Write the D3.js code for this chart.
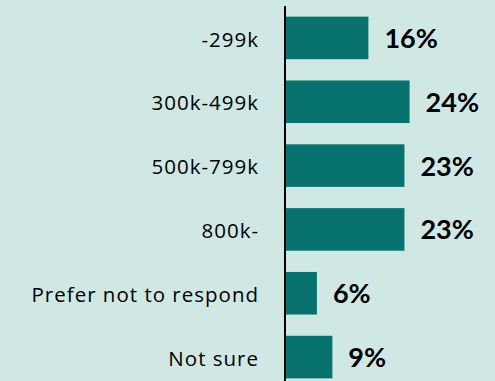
<!DOCTYPE html>
<html>
<head>
<meta charset="utf-8">
<script src="https://cdn.jsdelivr.net/npm/d3@7"></script>
<style>
  html, body { margin: 0; padding: 0; background: #d0e8e4; }
  svg { display: block; }
</style>
</head>
<body>
<div id="chart"></div>
<script>
// Household income brackets and share of respondents (%)
const categories = ["-299k", "300k-499k", "500k-799k", "800k-", "Prefer not to respond", "Not sure"];
const shares = [16, 24, 23, 23, 6, 9];
const valueLabels = ["16%", "24%", "23%", "23%", "6%", "9%"];

const W = 495, H = 381;
const svg = d3.select("#chart").append("svg")
  .attr("width", W).attr("height", H);

svg.append("rect").attr("width", W).attr("height", H).attr("fill", "#d0e8e4");

const y = d3.scaleBand()
  .domain(categories)
  .range([6, 389])
  .paddingInner(0.333)
  .paddingOuter(0.1667);

const x = d3.scaleLinear().domain([0, 40]).range([286, 492]);

// bars
svg.selectAll("rect.bar")
  .data(categories)
  .join("rect")
  .attr("class", "bar")
  .attr("x", x(0))
  .attr("y", d => y(d))
  .attr("width", (d, i) => x(shares[i]) - x(0))
  .attr("height", y.bandwidth())
  .attr("fill", "#08726f");

// category axis on the left
const axis = d3.axisLeft(y).tickSize(0).tickPadding(26);
const g = svg.append("g").attr("transform", `translate(${x(0) - 1},0)`).call(axis);
g.select(".domain").attr("d", `M0,6V${H + 5}`).attr("stroke", "#000").attr("stroke-width", 2);
g.selectAll(".tick text")
  .attr("font-family", "'Open Sans', Lato, sans-serif")
  .attr("font-size", 20.5)
  .attr("letter-spacing", "1px")
  .attr("fill", "#000")
  .attr("dy", "0.42em");

// value labels
svg.selectAll("text.val")
  .data(categories)
  .join("text")
  .attr("class", "val")
  .attr("x", (d, i) => x(shares[i]) + 16)
  .attr("y", d => y(d) + y.bandwidth() / 2)
  .attr("dy", "0.37em")
  .attr("font-family", "Lato, 'Open Sans', sans-serif")
  .attr("font-weight", "bold")
  .attr("font-size", 27)
  .attr("fill", "#000")
  .text((d, i) => valueLabels[i]);
</script>
</body>
</html>
